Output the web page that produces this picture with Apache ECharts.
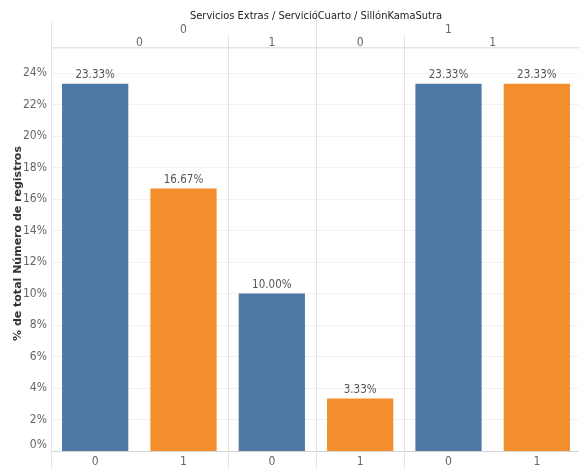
<!DOCTYPE html>
<html>
<head>
<meta charset="utf-8">
<script src="https://cdn.jsdelivr.net/npm/echarts@6/dist/echarts.min.js"></script>
<style>
  html, body { margin: 0; padding: 0; background: #fff; }
  #chart { width: 579px; height: 469px; }
</style>
</head>
<body>
<div id="chart"></div>
<script>
// Nested header levels: Servicios Extras > ServicióCuarto > SillónKamaSutra
const headerTitle = 'Servicios Extras / ServicióCuarto / SillónKamaSutra';
const extrasLabels = ['0', '1'];
const extrasSpans = [3, 3];
const cuartoLabels = ['0', '1', '0', '1'];
const cuartoSpans = [2, 1, 1, 2];
const sillonLabels = ['0', '1', '0', '1', '0', '1'];

// % of total record count for each leaf column
const percentValues = [23.33, 16.67, 10.00, 3.33, 23.33, 23.33];

const yAxisName = '% de total Número de registros';
const colorBySillon = { '0': '#4e79a7', '1': '#f28e2b' };

const FONT = "'Liberation Sans Narrow', 'DejaVu Sans Condensed', 'Liberation Sans', sans-serif";
const LINE = '#e3e3e3';

const chart = echarts.init(document.getElementById('chart'), null, { renderer: 'canvas' });

chart.setOption({
  animation: false,
  textStyle: { fontFamily: FONT },
  grid: {
    left: 51, right: -2, top: 48, bottom: 18,
    containLabel: false, outerBoundsMode: 'none'
  },
  xAxis: {
    type: 'category',
    data: sillonLabels,
    axisLine: { show: true, lineStyle: { color: '#d6d6d6' } },
    axisTick: { show: false },
    axisLabel: { color: '#666', fontSize: 12, margin: 5, fontFamily: FONT },
    splitLine: { show: false }
  },
  yAxis: {
    type: 'value',
    min: 0,
    max: 25.6,
    interval: 2,
    name: yAxisName,
    nameLocation: 'middle',
    nameGap: 27,
    nameMoveOverlap: false,
    nameTextStyle: {
      color: '#333', fontSize: 11, fontWeight: 'bold',
      fontFamily: "'DejaVu Sans', sans-serif",
      padding: [0, 0, 0, 12]
    },
    axisLine: { show: false },
    axisTick: { show: false },
    axisLabel: {
      color: '#666', fontSize: 12, margin: 4, fontFamily: FONT,
      showMaxLabel: false,
      verticalAlignMinLabel: 'bottom',
      formatter: v => (Math.abs(v % 2) < 1e-6 ? v + '%' : '')
    },
    splitLine: { show: true, lineStyle: { color: '#f2f2f2', width: 1 } }
  },
  series: [{
    type: 'bar',
    barWidth: '75%',
    data: percentValues.map((v, i) => ({
      value: v,
      itemStyle: { color: colorBySillon[sillonLabels[i]] }
    })),
    label: {
      show: true,
      position: 'top',
      distance: 3,
      color: '#555',
      fontSize: 11.5,
      fontFamily: FONT,
      formatter: p => p.value.toFixed(2) + '%'
    }
  }]
});

// Header rows and column separators, positioned from the category axis
function buildHeader() {
  const px = i => chart.convertToPixel({ xAxisIndex: 0 }, i);
  const band = px(1) - px(0);
  const edge = i => px(0) - band / 2 + i * band;   // left edge of column i
  const top = 48, bottom = 469, W = 579;
  const els = [];
  const vline = (x, y1, y2) => els.push({
    type: 'line', silent: true, z: 50,
    shape: { x1: Math.round(x) + 0.5, y1: y1, x2: Math.round(x) + 0.5, y2: y2 },
    style: { stroke: LINE, lineWidth: 1 }
  });
  const txt = (x, y, s, opt) => els.push({
    type: 'text', silent: true, z: 60,
    style: Object.assign({
      x: x, y: y, text: s, align: 'center', verticalAlign: 'middle',
      fill: '#666', font: '12px ' + FONT
    }, opt || {})
  });

  // horizontal rule under the header
  els.push({
    type: 'line', silent: true, z: 50,
    shape: { x1: edge(0), y1: top - 0.5, x2: W, y2: top - 0.5 },
    style: { stroke: LINE, lineWidth: 1 }
  });
  // left border
  vline(edge(0), 22, bottom);

  // title
  txt((edge(0) + edge(sillonLabels.length)) / 2, 16, headerTitle,
      { fill: '#222', font: '11px ' + FONT });

  // Servicios Extras row
  let start = 0;
  extrasLabels.forEach((lab, k) => {
    const end = start + extrasSpans[k];
    txt((edge(start) + edge(end)) / 2, 30, lab);
    if (k > 0) vline(edge(start), 11, bottom);
    start = end;
  });

  // ServicióCuarto row
  start = 0;
  const extrasBounds = [];
  extrasSpans.reduce((a, s) => { extrasBounds.push(a); return a + s; }, 0);
  cuartoLabels.forEach((lab, k) => {
    const end = start + cuartoSpans[k];
    txt((edge(start) + edge(end)) / 2, 43, lab);
    if (k > 0 && extrasBounds.indexOf(start) < 0) vline(edge(start), 35, bottom);
    start = end;
  });

  chart.setOption({ graphic: els });
}
buildHeader();
</script>
</body>
</html>
